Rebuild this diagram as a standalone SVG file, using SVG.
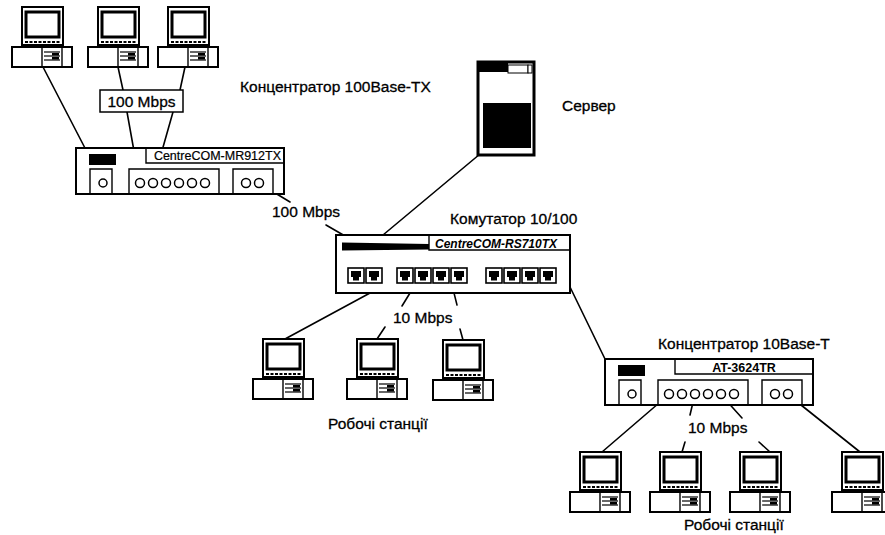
<svg xmlns="http://www.w3.org/2000/svg" xmlns:xlink="http://www.w3.org/1999/xlink" width="885" height="535" viewBox="0 0 885 535">
  <style>
    .t { font-family: "Liberation Sans", Arial, sans-serif; font-size: 15.5px; fill: #000; stroke: #000; stroke-width: 0.3; }
    .dev { fill: #fff; stroke: #000; stroke-width: 2; }
    .thin { fill: none; stroke: #000; stroke-width: 1.4; }
    .port { fill: #fff; stroke: #000; stroke-width: 1.5; }
    .con { fill: none; stroke: #000; stroke-width: 1.6; stroke-linecap: round; }
  </style>
  <defs>
    <!-- workstation: monitor on top of a desktop case -->
    <symbol id="pc" overflow="visible">
      <rect class="dev" x="10" y="0" width="41" height="38"/>
      <rect x="14" y="5" width="33" height="25" fill="#fff" stroke="#000" stroke-width="3"/>
      <line x1="13" y1="35" x2="49" y2="35" stroke="#000" stroke-width="2" stroke-dasharray="3 1.5"/>
      <rect class="dev" x="0" y="40" width="60" height="20"/>
      <line x1="30" y1="40" x2="30" y2="60" stroke="#000" stroke-width="1.4"/>
      <line x1="50" y1="40" x2="50" y2="60" stroke="#000" stroke-width="1.4"/>
      <line x1="32" y1="45" x2="48" y2="45" stroke="#000" stroke-width="1.2"/>
      <line x1="32" y1="49" x2="48" y2="49" stroke="#000" stroke-width="1.2"/>
      <line x1="32" y1="53" x2="48" y2="53" stroke="#000" stroke-width="1.2"/>
      <rect x="40" y="46" width="7" height="2.5" fill="#000"/>
      <rect x="40" y="50" width="7" height="2.5" fill="#000"/>
    </symbol>
    <!-- stackable hub chassis -->
    <symbol id="hub" overflow="visible">
      <rect class="dev" x="0" y="0" width="208" height="46"/>
      <path class="thin" d="M70,0 V15 H208"/>
      <rect x="13" y="6" width="27" height="11" fill="#000"/>
      <path class="thin" d="M14,46 V21 H36 V46 M53,46 V21 H143 V46 M157,46 V21 H197 V46"/>
      <circle class="port" cx="27" cy="35" r="4"/>
      <circle class="port" cx="64" cy="35" r="4.5"/>
      <circle class="port" cx="77" cy="35" r="4.5"/>
      <circle class="port" cx="90" cy="35" r="4.5"/>
      <circle class="port" cx="103" cy="35" r="4.5"/>
      <circle class="port" cx="116" cy="35" r="4.5"/>
      <circle class="port" cx="129" cy="35" r="4.5"/>
      <circle class="port" cx="170" cy="35" r="4.5"/>
      <circle class="port" cx="183" cy="35" r="4.5"/>
    </symbol>
    <!-- RJ-45 socket -->
    <symbol id="rj" overflow="visible">
      <rect x="0" y="0" width="16" height="15" fill="#fff" stroke="#000" stroke-width="1.6"/>
      <path d="M3,3 H13 V9 H11 V12.5 H5 V9 H3 Z" fill="#000"/>
    </symbol>
  </defs>

  <rect width="885" height="535" fill="#fff"/>

  <g id="connectors">
    <line class="con" x1="43" y1="67" x2="101" y2="179"/>
    <line class="con" x1="118" y1="67" x2="123" y2="90"/>
    <line class="con" x1="127" y1="112" x2="139" y2="179"/>
    <line class="con" x1="185" y1="67" x2="180" y2="90"/>
    <line class="con" x1="173" y1="112" x2="154" y2="179"/>
    <line class="con" x1="262" y1="185" x2="290" y2="202"/>
    <line class="con" x1="326" y1="225" x2="345" y2="236"/>
    <line class="con" x1="480" y1="154" x2="383" y2="235"/>
    <line class="con" x1="370" y1="293" x2="285" y2="339"/>
    <line class="con" x1="410" y1="293" x2="402" y2="306"/>
    <line class="con" x1="385" y1="327" x2="377" y2="339"/>
    <line class="con" x1="454" y1="293" x2="457" y2="305"/>
    <line class="con" x1="460" y1="329" x2="463" y2="340"/>
    <line class="con" x1="570" y1="287" x2="605" y2="359"/>
    <line class="con" x1="666" y1="397" x2="602" y2="452"/>
    <line class="con" x1="694" y1="398" x2="690" y2="415"/>
    <line class="con" x1="685" y1="442" x2="682" y2="452"/>
    <line class="con" x1="724" y1="398" x2="742" y2="418"/>
    <line class="con" x1="759" y1="442" x2="770" y2="452"/>
    <line class="con" x1="791" y1="397" x2="860" y2="452"/>
  </g>

  <g id="pc-top-1"><use xlink:href="#pc" x="12" y="7"/></g>
  <g id="pc-top-2"><use xlink:href="#pc" x="88" y="7"/></g>
  <g id="pc-top-3"><use xlink:href="#pc" x="158" y="7"/></g>

  <g id="label-100-top">
    <rect x="100" y="90" width="83" height="22" fill="#fff" stroke="#000" stroke-width="1.5"/>
    <text class="t" x="141.5" y="106.5" text-anchor="middle">100 Mbps</text>
  </g>

  <g id="hub-100">
    <use xlink:href="#hub" x="76" y="148"/>
    <text class="t" x="281" y="160" text-anchor="end" style="font-size:12.5px;stroke-width:0.2">CentreCOM-MR912TX</text>
    <text class="t" x="240" y="92">Концентратор 100Base-TX</text>
  </g>

  <g id="server">
    <rect x="478" y="62" width="56" height="93" fill="#fff" stroke="#000" stroke-width="3"/>
    <rect x="478" y="62" width="30" height="10" fill="#000"/>
    <rect x="508" y="65" width="20" height="8" fill="#fff" stroke="#000" stroke-width="1"/>
    <rect x="528" y="65" width="4" height="8" fill="#fff" stroke="#000" stroke-width="1"/>
    <rect x="483" y="103" width="48" height="45" fill="#000"/>
    <text class="t" x="562" y="111">Сервер</text>
  </g>

  <text class="t" x="272" y="217">100 Mbps</text>

  <g id="switch">
    <rect class="dev" x="336" y="235" width="234" height="58"/>
    <path class="thin" d="M429,235 V250 H570"/>
    <path d="M342,242.5 L429,244 V249.5 L342,250.5 Z" fill="#000"/>
    <text class="t" x="435" y="247.5" style="font-size:12px;font-weight:bold;font-style:italic;stroke-width:0">CentreCOM-RS710TX</text>
    <use xlink:href="#rj" x="348" y="268"/>
    <use xlink:href="#rj" x="366" y="268"/>
    <use xlink:href="#rj" x="397" y="268"/>
    <use xlink:href="#rj" x="415" y="268"/>
    <use xlink:href="#rj" x="433" y="268"/>
    <use xlink:href="#rj" x="451" y="268"/>
    <use xlink:href="#rj" x="486" y="268"/>
    <use xlink:href="#rj" x="504" y="268"/>
    <use xlink:href="#rj" x="522" y="268"/>
    <use xlink:href="#rj" x="540" y="268"/>
    <text class="t" x="450" y="224">Комутатор 10/100</text>
  </g>

  <text class="t" x="393" y="323">10 Mbps</text>

  <g id="pc-mid-1"><use xlink:href="#pc" x="253" y="339"/></g>
  <g id="pc-mid-2"><use xlink:href="#pc" x="347" y="339"/></g>
  <g id="pc-mid-3"><use xlink:href="#pc" x="433" y="340"/></g>
  <text class="t" x="328" y="429">Робочі станції</text>

  <g id="hub-10">
    <use xlink:href="#hub" x="605" y="359"/>
    <text class="t" x="744" y="372" text-anchor="middle" style="font-size:12.5px;font-weight:bold;stroke-width:0">AT-3624TR</text>
    <text class="t" x="658" y="349">Концентратор 10Base-T</text>
  </g>

  <text class="t" x="688" y="433">10 Mbps</text>

  <g id="pc-right-1"><use xlink:href="#pc" x="570" y="452"/></g>
  <g id="pc-right-2"><use xlink:href="#pc" x="650" y="452"/></g>
  <g id="pc-right-3"><use xlink:href="#pc" x="730" y="452"/></g>
  <g id="pc-right-4"><use xlink:href="#pc" x="832" y="452"/></g>
  <text class="t" x="684" y="530">Робочі станції</text>
</svg>
